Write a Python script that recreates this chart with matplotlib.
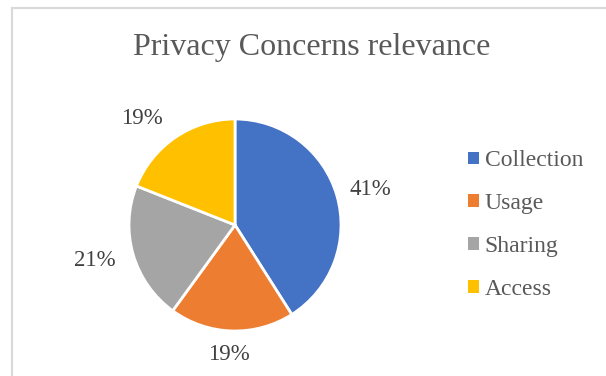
import matplotlib
matplotlib.use("Agg")
import matplotlib.pyplot as plt
from matplotlib.lines import Line2D

categories = ["Collection", "Usage", "Sharing", "Access"]
values = [41, 19, 21, 19]
colors = ["#4472C4", "#ED7D31", "#A5A5A5", "#FFC000"]
title = "Privacy Concerns relevance"

W, H = 606, 376
fig = plt.figure(figsize=(W / 100, H / 100), dpi=100)
plt.rcParams['font.family'] = ['Liberation Serif', 'DejaVu Serif']

# border (top and left edges visible)
fig.add_artist(Line2D([12 / W, 12 / W], [0, 1 - 8 / H], transform=fig.transFigure, color="#D9D9D9", lw=1.5))
fig.add_artist(Line2D([12 / W, 1], [1 - 8 / H, 1 - 8 / H], transform=fig.transFigure, color="#D9D9D9", lw=1.5))

cx, cy, r = 235, 225, 106
half = 170
ax = fig.add_axes([(cx - half) / W, (H - cy - half) / H, 2 * half / W, 2 * half / H])

wedges, texts, autotexts = ax.pie(
    values, colors=colors, startangle=90, counterclock=False, radius=1.0,
    autopct=lambda p: f"{p:.0f}%", pctdistance=1.31,
    wedgeprops=dict(edgecolor="white", linewidth=2),
    textprops=dict(fontsize=16.5, color="#404040"),
)
lim = half / r
ax.set_xlim(-lim, lim)
ax.set_ylim(-lim, lim)
ax.set_aspect("equal")
ax.axis("off")

# small label nudges (in pixels, +x right, +y up) to mimic best-fit placement
nudges = [(2, -3), (-2, 9), (-7, 3), (-15, -8)]
for t, (dx, dy) in zip(autotexts, nudges):
    x, y = t.get_position()
    t.set_position((x + dx / r, y + dy / r))

fig.text(312 / W, 1 - 47 / H, title, ha="center", va="center", fontsize=23, color="#595959")

leg = fig.legend(
    wedges, categories, loc="center left", bbox_to_anchor=(447 / W, 1 - 225 / H),
    frameon=False, fontsize=17, handlelength=0.45, handleheight=0.45,
    handletextpad=0.25, labelspacing=0.92, labelcolor="#595959",
)
for h in leg.legend_handles:
    h.set_edgecolor("none")

fig.savefig("out.png", dpi=100)
